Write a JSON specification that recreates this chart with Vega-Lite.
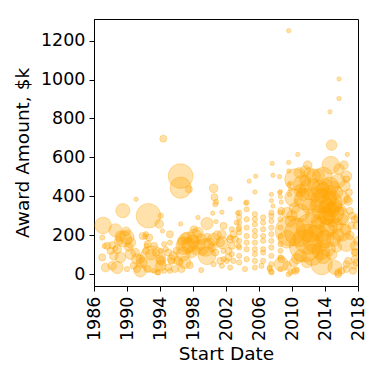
{
"$schema": "https://vega.github.io/schema/vega-lite/v6.json",
"width": 264, "height": 267,
"autosize": {"type": "none"},
"padding": {"left": 94, "top": 19, "right": 24, "bottom": 96},
"background": "white",
"config": {"view": {"stroke": "black", "strokeWidth": 1}, "font": "DejaVu Sans"},
"data": {"values": [
{"d":1987.1,"a":250,"w":22},{"d":1989.5,"a":326,"w":16},{"d":1992.6,"a":300,"w":48},{"d":1991.1,"a":385,"w":1.5},{"d":1993.9,"a":258,"w":6},{"d":1994.1,"a":300,"w":2.2},{"d":1994.3,"a":222,"w":1.5},{"d":1988.6,"a":225,"w":14},{"d":1989.6,"a":180,"w":20},{"d":1990.0,"a":190,"w":16},{"d":1989.2,"a":196,"w":9},{"d":1990.4,"a":162,"w":9},{"d":1987.0,"a":188,"w":2.2},{"d":1987.3,"a":145,"w":2.2},{"d":1987.6,"a":145,"w":4},{"d":1988.2,"a":149,"w":4},{"d":1988.6,"a":132,"w":2.2},{"d":1988.0,"a":120,"w":4},{"d":1988.8,"a":128,"w":6},{"d":1987.0,"a":86,"w":4},{"d":1988.4,"a":94,"w":6},{"d":1989.2,"a":86,"w":9},{"d":1990.4,"a":103,"w":9},{"d":1991.0,"a":111,"w":6},{"d":1991.2,"a":77,"w":9},{"d":1991.6,"a":77,"w":6},{"d":1992.3,"a":120,"w":4},{"d":1992.5,"a":154,"w":4},{"d":1993.1,"a":77,"w":56},{"d":1991.9,"a":196,"w":4},{"d":1992.3,"a":205,"w":2.2},{"d":1992.7,"a":188,"w":4},{"d":1992.2,"a":193,"w":2.2},{"d":1992.4,"a":145,"w":2.2},{"d":1987.4,"a":34,"w":6},{"d":1988.8,"a":34,"w":12},{"d":1988.2,"a":43,"w":6},{"d":1990.0,"a":26,"w":2.2},{"d":1990.8,"a":43,"w":4},{"d":1991.6,"a":17,"w":12},{"d":1991.8,"a":60,"w":9},{"d":1991.2,"a":26,"w":4},{"d":1992.5,"a":26,"w":4},{"d":1993.3,"a":17,"w":2.2},{"d":1994.1,"a":43,"w":9},{"d":1994.1,"a":68,"w":6},{"d":1994.0,"a":77,"w":6},{"d":1994.5,"a":17,"w":2.2},{"d":1993.7,"a":9,"w":2.2},{"d":1993.8,"a":9,"w":2.2},{"d":1993.3,"a":145,"w":4},{"d":1994.1,"a":120,"w":2.2},{"d":1994.5,"a":154,"w":2.2},{"d":1994.7,"a":128,"w":2.2},{"d":1994.4,"a":696,"w":4},{"d":1990.2,"a":140,"w":6},{"d":1989.9,"a":220,"w":6},{"d":1989.0,"a":170,"w":6},{"d":1993.5,"a":110,"w":4},{"d":1992.9,"a":100,"w":9},
{"d":1996.5,"a":504,"w":49},{"d":1996.5,"a":444,"w":36},{"d":1997.5,"a":436,"w":4},{"d":2000.5,"a":441,"w":6},{"d":2000.6,"a":395,"w":4},{"d":2000.8,"a":371,"w":2.2},{"d":2000.7,"a":359,"w":2.2},{"d":2000.4,"a":313,"w":1.5},{"d":2001.5,"a":318,"w":1.5},{"d":2002.5,"a":386,"w":1.5},{"d":2003.4,"a":313,"w":1.5},{"d":1996.5,"a":258,"w":1.5},{"d":1998.6,"a":291,"w":1.5},{"d":1999.7,"a":260,"w":12},{"d":2000.8,"a":270,"w":1.5},{"d":2001.7,"a":248,"w":4},{"d":1995.2,"a":205,"w":4},{"d":1995.2,"a":162,"w":2.2},{"d":1997.4,"a":162,"w":36},{"d":1997.0,"a":145,"w":25},{"d":1998.2,"a":196,"w":16},{"d":1998.6,"a":214,"w":9},{"d":1999.0,"a":179,"w":9},{"d":1999.7,"a":188,"w":6},{"d":2000.5,"a":179,"w":12},{"d":2001.5,"a":205,"w":6},{"d":2001.3,"a":162,"w":6},{"d":2002.5,"a":179,"w":4},{"d":2002.7,"a":145,"w":4},{"d":2003.5,"a":145,"w":2.2},{"d":2003.5,"a":231,"w":2.2},{"d":2003.3,"a":265,"w":2.2},{"d":1999.7,"a":94,"w":25},{"d":2000.7,"a":111,"w":4},{"d":1997.0,"a":60,"w":12},{"d":1996.2,"a":68,"w":6},{"d":1995.4,"a":77,"w":6},{"d":1995.0,"a":34,"w":4},{"d":1995.8,"a":26,"w":4},{"d":1996.6,"a":26,"w":4},{"d":1997.6,"a":46,"w":4},{"d":1999.0,"a":21,"w":2.2},{"d":2001.3,"a":68,"w":4},{"d":2002.3,"a":86,"w":4},{"d":2002.9,"a":68,"w":2.2},{"d":2000.5,"a":51,"w":2.2},{"d":2001.5,"a":43,"w":2.2},{"d":1995.0,"a":111,"w":4},{"d":1996.0,"a":120,"w":4},{"d":1998.4,"a":120,"w":6},{"d":1996.8,"a":103,"w":16},{"d":1997.8,"a":111,"w":9},{"d":1999.5,"a":137,"w":25},{"d":2000.3,"a":137,"w":6},{"d":2002.3,"a":120,"w":4},{"d":2002.9,"a":205,"w":4},{"d":2003.1,"a":179,"w":4},{"d":1995.6,"a":94,"w":6},{"d":1995.4,"a":68,"w":4},{"d":1995.2,"a":17,"w":2.2},{"d":1996.4,"a":60,"w":4},{"d":1997.5,"a":150,"w":16},{"d":1998.0,"a":170,"w":12},{"d":1997.2,"a":185,"w":9},{"d":1996.7,"a":170,"w":6},{"d":1998.8,"a":150,"w":9},{"d":2001.5,"a":162,"w":12},{"d":2002.7,"a":231,"w":2.2},{"d":2002.5,"a":188,"w":2.2},{"d":2002.7,"a":103,"w":2.2},{"d":2001.7,"a":120,"w":2.2},{"d":2001.7,"a":77,"w":2.2},{"d":2002.1,"a":68,"w":2.2},{"d":2002.5,"a":34,"w":2.2},{"d":2000.9,"a":200,"w":6},{"d":1998.1,"a":230,"w":4},{"d":1999.2,"a":120,"w":6},{"d":2000.0,"a":160,"w":9},
{"d":2003.6,"a":316,"w":2.2},{"d":2003.6,"a":291,"w":2.2},{"d":2003.6,"a":265,"w":2.2},{"d":2003.6,"a":239,"w":2.2},{"d":2003.6,"a":214,"w":2.2},{"d":2003.6,"a":171,"w":2.2},{"d":2003.6,"a":137,"w":2.2},{"d":2003.6,"a":94,"w":2.2},{"d":2003.6,"a":60,"w":2.2},
{"d":2004.5,"a":368,"w":2.2},{"d":2004.5,"a":333,"w":2.2},{"d":2004.5,"a":282,"w":2.2},{"d":2004.5,"a":239,"w":2.2},{"d":2004.5,"a":196,"w":2.2},{"d":2004.5,"a":162,"w":2.2},{"d":2004.5,"a":128,"w":2.2},{"d":2004.5,"a":77,"w":2.2},{"d":2004.3,"a":26,"w":2.2},
{"d":2005.5,"a":308,"w":2.2},{"d":2005.5,"a":282,"w":2.2},{"d":2005.5,"a":256,"w":2.2},{"d":2005.5,"a":222,"w":2.2},{"d":2005.5,"a":196,"w":2.2},{"d":2005.5,"a":162,"w":2.2},{"d":2005.5,"a":128,"w":2.2},{"d":2005.5,"a":103,"w":2.2},{"d":2005.5,"a":68,"w":2.2},{"d":2005.5,"a":34,"w":2.2},
{"d":2006.5,"a":291,"w":2.2},{"d":2006.5,"a":265,"w":2.2},{"d":2006.5,"a":231,"w":2.2},{"d":2006.5,"a":196,"w":2.2},{"d":2006.5,"a":171,"w":2.2},{"d":2006.5,"a":128,"w":2.2},{"d":2006.5,"a":111,"w":2.2},{"d":2006.5,"a":68,"w":2.2},{"d":2006.3,"a":43,"w":2.2},
{"d":2007.5,"a":316,"w":2.2},{"d":2007.5,"a":299,"w":2.2},{"d":2007.5,"a":273,"w":2.2},{"d":2007.5,"a":239,"w":2.2},{"d":2007.5,"a":205,"w":2.2},{"d":2007.5,"a":171,"w":2.2},{"d":2007.5,"a":137,"w":2.2},{"d":2007.5,"a":94,"w":2.2},{"d":2007.5,"a":51,"w":2.2},{"d":2007.3,"a":26,"w":2.2},{"d":2007.5,"a":9,"w":2.2},
{"d":2008.6,"a":316,"w":2.2},{"d":2008.6,"a":282,"w":2.2},{"d":2008.6,"a":239,"w":2.2},{"d":2008.6,"a":196,"w":2.2},{"d":2008.6,"a":154,"w":2.2},{"d":2008.6,"a":120,"w":2.2},{"d":2008.6,"a":86,"w":2.2},{"d":2008.6,"a":26,"w":2.2},{"d":2008.7,"a":51,"w":16},
{"d":2004.8,"a":478,"w":1.5},{"d":2005.6,"a":503,"w":1.5},{"d":2005.5,"a":422,"w":1.5},{"d":2004.4,"a":366,"w":1.5},{"d":2007.7,"a":508,"w":1.5},{"d":2008.5,"a":501,"w":1.5},{"d":2007.5,"a":410,"w":1.5},{"d":2007.5,"a":378,"w":1.5},{"d":2007.7,"a":350,"w":1.5},{"d":2008.5,"a":419,"w":1.5},{"d":2008.6,"a":398,"w":1.5},{"d":2008.7,"a":370,"w":1.5},{"d":2009.7,"a":410,"w":1.5},{"d":2010.5,"a":376,"w":1.5},{"d":2009.8,"a":467,"w":1.5},{"d":2007.6,"a":569,"w":1.5},{"d":2009.6,"a":574,"w":1.5},{"d":2009.6,"a":530,"w":1.5},{"d":2009.6,"a":460,"w":1.5},{"d":2009.8,"a":436,"w":1.5},{"d":2008.6,"a":424,"w":1.5},
{"d":2007.3,"a":34,"w":2.2},{"d":2007.5,"a":14,"w":2.2},{"d":2009.6,"a":0,"w":2.2},{"d":2009.8,"a":9,"w":2.2},{"d":2010.2,"a":17,"w":2.2},{"d":2010.6,"a":22,"w":2.2},{"d":2010.2,"a":60,"w":6},{"d":2011.0,"a":94,"w":12},
{"d":2009.6,"a":1251,"w":1.5},{"d":2015.7,"a":1003,"w":1.5},{"d":2015.7,"a":902,"w":1.5},{"d":2014.6,"a":834,"w":1.5},{"d":2014.8,"a":663,"w":9},{"d":2010.7,"a":615,"w":1.5},{"d":2016.7,"a":615,"w":1.5},{"d":2014.7,"a":560,"w":25},{"d":2011.6,"a":530,"w":9},{"d":2016.6,"a":504,"w":9},{"d":2010.4,"a":487,"w":36},{"d":2012.6,"a":504,"w":16},{"d":2013.8,"a":504,"w":25},{"d":2011.2,"a":461,"w":25},{"d":2015.6,"a":478,"w":16},{"d":2012.2,"a":436,"w":36},{"d":2013.4,"a":436,"w":25},{"d":2014.6,"a":453,"w":25},{"d":2016.4,"a":453,"w":9},{"d":2010.2,"a":393,"w":25},{"d":2011.6,"a":385,"w":36},{"d":2013.8,"a":376,"w":49},{"d":2014.8,"a":368,"w":36},{"d":2016.0,"a":393,"w":16},{"d":2016.8,"a":376,"w":6},{"d":2013.0,"a":350,"w":16},{"d":2015.0,"a":316,"w":36},{"d":2015.8,"a":299,"w":25},{"d":2014.2,"a":291,"w":16},{"d":2011.0,"a":316,"w":25},{"d":2009.4,"a":316,"w":9},{"d":2008.7,"a":325,"w":4},{"d":2017.0,"a":325,"w":4},{"d":2017.6,"a":282,"w":4},{"d":2017.8,"a":248,"w":4},{"d":2012.2,"a":239,"w":64},{"d":2010.8,"a":214,"w":64},{"d":2013.6,"a":231,"w":49},{"d":2013.0,"a":179,"w":64},{"d":2011.6,"a":145,"w":81},{"d":2009.8,"a":222,"w":72},{"d":2012.0,"a":180,"w":72},{"d":2009.4,"a":179,"w":25},{"d":2016.0,"a":214,"w":25},{"d":2016.6,"a":162,"w":25},{"d":2015.0,"a":179,"w":16},{"d":2017.6,"a":145,"w":6},{"d":2013.6,"a":51,"w":36},{"d":2015.2,"a":34,"w":16},{"d":2008.7,"a":77,"w":4},{"d":2009.4,"a":43,"w":6},{"d":2010.4,"a":17,"w":4},{"d":2016.0,"a":17,"w":4},{"d":2016.8,"a":68,"w":4},{"d":2017.4,"a":17,"w":4},{"d":2017.8,"a":60,"w":4},{"d":2017.6,"a":111,"w":4},{"d":2018.0,"a":287,"w":6},{"d":2018.0,"a":171,"w":6},{"d":2017.7,"a":113,"w":4},{"d":2017.6,"a":77,"w":4},{"d":2017.5,"a":43,"w":4},{"d":2016.6,"a":26,"w":4},{"d":2016.6,"a":51,"w":4},{"d":2015.6,"a":9,"w":4},{"d":2015.6,"a":0,"w":4},{"d":2016.7,"a":385,"w":4},{"d":2016.6,"a":487,"w":4},{"d":2016.9,"a":420,"w":4},
{"d":2013.9,"a":360,"w":25},{"d":2014.3,"a":340,"w":25},{"d":2014.6,"a":390,"w":16},{"d":2013.6,"a":400,"w":16},{"d":2014.9,"a":330,"w":16},{"d":2014.2,"a":300,"w":25},{"d":2013.3,"a":320,"w":16},{"d":2015.2,"a":350,"w":16},{"d":2014.5,"a":420,"w":16},{"d":2013.7,"a":440,"w":12},{"d":2012.8,"a":410,"w":16},{"d":2014.1,"a":460,"w":12},{"d":2015.4,"a":420,"w":12},{"d":2014.8,"a":280,"w":16},{"d":2015.3,"a":250,"w":16},{"d":2014.4,"a":240,"w":25},{"d":2013.2,"a":270,"w":16},{"d":2012.5,"a":300,"w":16},{"d":2012.0,"a":350,"w":16},{"d":2011.0,"a":430,"w":12},{"d":2011.6,"a":480,"w":9},{"d":2012.6,"a":460,"w":12},{"d":2010.9,"a":520,"w":9},{"d":2011.3,"a":410,"w":12},{"d":2010.3,"a":340,"w":9},{"d":2010.0,"a":300,"w":9},{"d":2009.8,"a":270,"w":9},{"d":2015.9,"a":330,"w":9},{"d":2016.2,"a":280,"w":9},{"d":2016.5,"a":230,"w":9},{"d":2017.0,"a":200,"w":6},{"d":2017.2,"a":250,"w":4},{"d":2017.3,"a":300,"w":4},{"d":2015.1,"a":450,"w":9},{"d":2015.7,"a":540,"w":9},{"d":2016.3,"a":560,"w":6},{"d":2013.2,"a":510,"w":12},{"d":2012.1,"a":520,"w":9},{"d":2011.9,"a":560,"w":6},
{"d":2012.5,"a":100,"w":36},{"d":2013.5,"a":120,"w":25},{"d":2014.0,"a":180,"w":25},{"d":2014.4,"a":130,"w":16},{"d":2013.8,"a":90,"w":16},{"d":2011.8,"a":60,"w":9},{"d":2010.6,"a":80,"w":9},{"d":2014.8,"a":100,"w":9},{"d":2015.4,"a":140,"w":9},{"d":2015.6,"a":200,"w":12}
]},
"mark": {"type": "circle", "clip": true, "opacity": 1, "fill": "#FFA500", "fillOpacity": 0.33, "stroke": "#FFA500", "strokeOpacity": 0.33, "strokeWidth": 1},
"encoding": {
"x": {"field": "d", "type": "quantitative", "scale": {"domain": [1986, 2018], "nice": false, "zero": false},
"axis": {"title": "Start Date", "values": [1986,1990,1994,1998,2002,2006,2010,2014,2018], "format": "d", "labelAngle": -90, "grid": false, "domainColor": "black", "tickColor": "black", "tickSize": 5, "labelColor": "black", "labelFontSize": 17.5, "labelFont": "DejaVu Sans", "labelPadding": 5, "titleFont": "DejaVu Sans", "titleFontSize": 18.5, "titleFontWeight": "normal", "titleColor": "black", "titlePadding": 4, "labelFlush": false, "labelOverlap": false}},
"y": {"field": "a", "type": "quantitative", "scale": {"domain": [-61, 1311], "nice": false, "zero": false},
"axis": {"title": "Award Amount, $k", "values": [0,200,400,600,800,1000,1200], "format": "d", "grid": false, "domainColor": "black", "tickColor": "black", "tickSize": 5, "labelColor": "black", "labelFontSize": 17.5, "labelFont": "DejaVu Sans", "labelPadding": 4, "titleFont": "DejaVu Sans", "titleFontSize": 18.5, "titleFontWeight": "normal", "titleColor": "black", "titlePadding": 8, "labelOverlap": false}},
"size": {"field": "w", "type": "quantitative", "scale": {"domain": [0, 100], "range": [0, 1257], "zero": true}, "legend": null}
}
}
